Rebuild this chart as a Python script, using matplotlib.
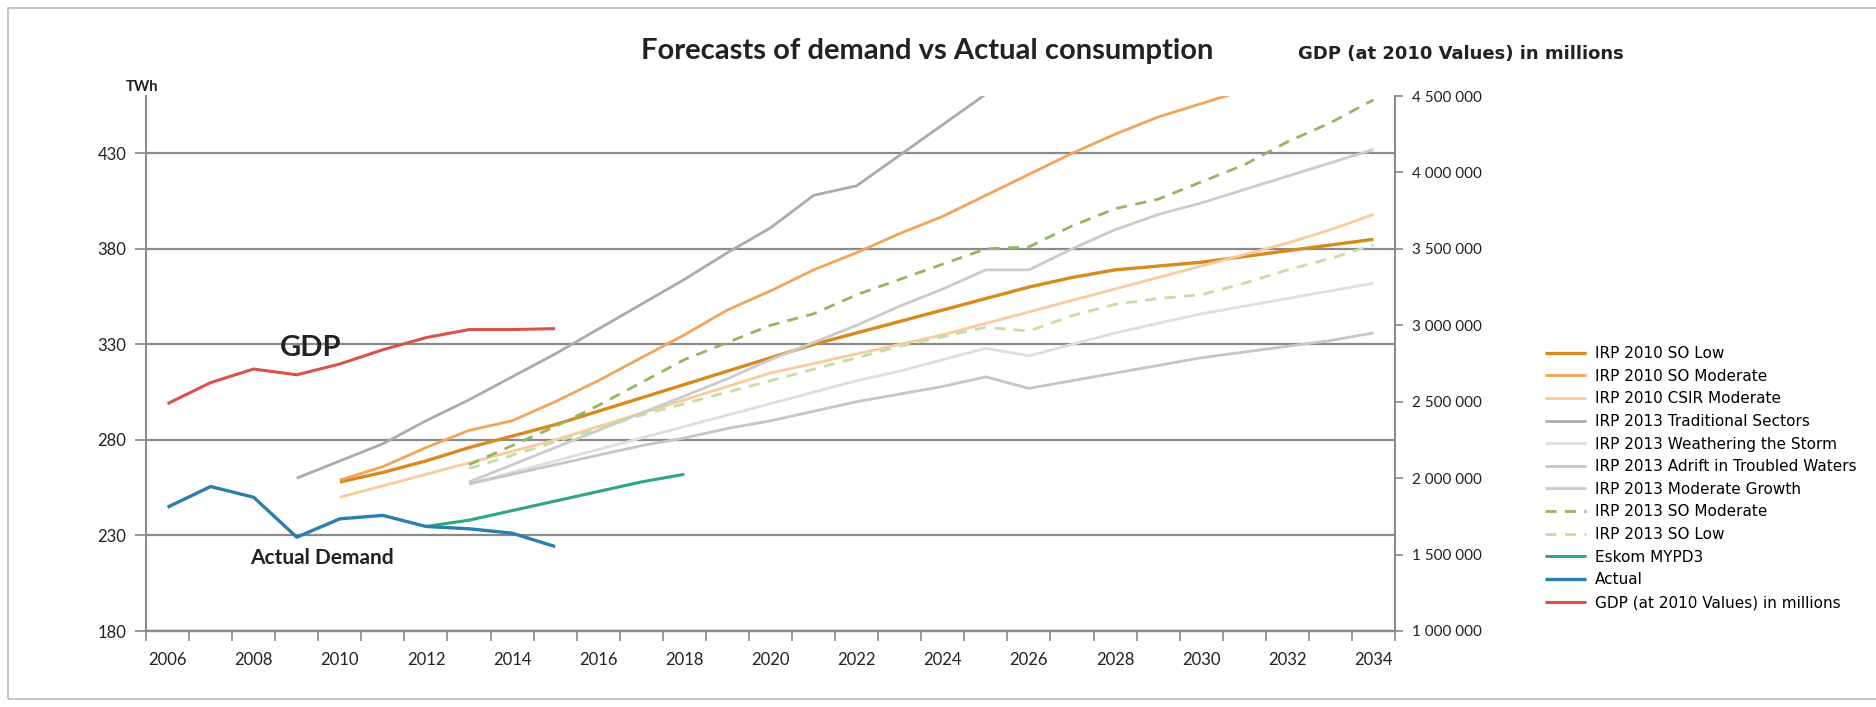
import matplotlib
matplotlib.use("Agg")
import matplotlib.pyplot as plt
from matplotlib.ticker import FixedLocator, FuncFormatter
from matplotlib.patches import Rectangle

plt.rcParams['font.family'] = ['Lato', 'DejaVu Sans']

# ---------------- data ----------------
years_actual = list(range(2006, 2016))
actual = [244.8, 255.6, 250.0, 229.1, 238.7, 240.5, 234.7, 233.5, 231.2, 224.2]
gdp = [2487000, 2625000, 2714000, 2676000, 2747000, 2840000, 2919000, 2972000, 2972000, 2978000]

years_eskom = list(range(2012, 2019))
eskom = [234.7, 238, 243, 248, 253, 258, 262]

years_2010 = list(range(2010, 2035))
irp2010_so_low = [258, 263, 269, 276, 282, 288, 295, 302, 309, 316, 323, 330, 336, 342, 348,
                  354, 360, 365, 369, 371, 373, 376, 379, 382, 385]
irp2010_csir = [250, 256, 262, 268, 274, 280, 287, 294, 301, 308, 315, 320, 325, 330, 335,
                341, 347, 353, 359, 365, 371, 377, 383, 390, 398]
years_2010_mod = list(range(2010, 2032))
irp2010_so_mod = [259, 266, 276, 285, 290, 300, 311, 323, 335, 348, 358, 369, 378, 388, 397,
                  408, 419, 430, 440, 449, 456, 463]

years_trad = list(range(2009, 2026))
irp2013_trad = [260, 269, 278, 290, 301, 313, 325, 338, 351, 364, 378, 391, 408, 413, 429, 445, 461]

years_2013 = list(range(2013, 2035))
irp2013_weather = [257, 263, 269, 275, 281, 287, 293, 299, 305, 311, 316, 322, 328, 324, 330,
                   336, 341, 346, 350, 354, 358, 362]
irp2013_adrift = [257, 262, 267, 272, 277, 281, 286, 290, 295, 300, 304, 308, 313, 307, 311,
                  315, 319, 323, 326, 329, 332, 336]
irp2013_modgrowth = [258, 267, 276, 285, 294, 303, 312, 322, 331, 340, 350, 359, 369, 369, 380,
                     390, 398, 404, 411, 418, 425, 432]
irp2013_so_mod = [267, 277, 287, 298, 310, 322, 331, 340, 346, 356, 364, 372, 380, 381, 392,
                  401, 406, 415, 424, 436, 446, 458]
irp2013_so_low = [265, 272, 279, 286, 293, 299, 305, 311, 317, 323, 329, 334, 339, 337, 345,
                  351, 354, 356, 362, 369, 375, 382]

left_ticks = [180, 230, 280, 330, 380, 430]
right_ticks = [1000000, 1500000, 2000000, 2500000, 3000000, 3500000, 4000000, 4500000]
x_labels = list(range(2006, 2035, 2))

# ---------------- figure ----------------
fig = plt.figure(figsize=(18.76, 7.07), dpi=100)
ax = fig.add_axes([146/1876, 1-631/707, (1395-146)/1876, (631-96)/707])
ax2 = ax.twinx()

lines = []
def plot(a, x, y, label, color, lw=2.0, ls='-'):
    l, = a.plot(x, y, color=color, lw=lw, ls=ls, label=label, solid_capstyle='butt')
    lines.append(l)

plot(ax, years_2010, irp2010_so_low, 'IRP 2010 SO Low', '#d88a1c', 2.4)
plot(ax, years_2010_mod, irp2010_so_mod, 'IRP 2010 SO Moderate', '#f2a458', 2.0)
plot(ax, years_2010, irp2010_csir, 'IRP 2010 CSIR Moderate', '#f7cb9c', 2.0)
plot(ax, years_trad, irp2013_trad, 'IRP 2013 Traditional Sectors', '#ababab', 2.0)
plot(ax, years_2013, irp2013_weather, 'IRP 2013 Weathering the Storm', '#dedede', 2.0)
plot(ax, years_2013, irp2013_adrift, 'IRP 2013 Adrift in Troubled Waters', '#c6c6c6', 2.0)
plot(ax, years_2013, irp2013_modgrowth, 'IRP 2013 Moderate Growth', '#cbcbcb', 2.0)
plot(ax, years_2013, irp2013_so_mod, 'IRP 2013 SO Moderate', '#93b660', 2.0, (0, (4, 3)))
plot(ax, years_2013, irp2013_so_low, 'IRP 2013 SO Low', '#c9dca6', 2.0, (0, (4, 3)))
plot(ax, years_eskom, eskom, 'Eskom MYPD3', '#2ea87a', 2.2)
plot(ax, years_actual, actual, 'Actual', '#2a80ab', 2.4)
plot(ax2, years_actual, gdp, 'GDP (at 2010 Values) in millions', '#d9534a', 2.2)

# axes setup
ax.set_xlim(2005.5, 2034.5)
ax.set_ylim(180, 460)
ax2.set_ylim(1000000, 4500000)
ax.set_yticks(left_ticks)
ax2.set_yticks(right_ticks)
ax2.yaxis.set_major_formatter(FuncFormatter(lambda v, p: f"{int(v):,}".replace(",", " ")))

ax.set_xticks(x_labels)
ax.xaxis.set_minor_locator(FixedLocator([2005.5 + k for k in range(30)]))
ax.tick_params(axis='x', which='major', length=0, labelsize=12, pad=15, colors='#222222')
ax.tick_params(axis='x', which='minor', length=7, color='#888888', width=1.2)
ax.tick_params(axis='y', which='major', length=8, color='#888888', width=1.2,
               labelsize=12, pad=6, labelcolor='#222222')
ax2.tick_params(axis='y', which='major', length=6, color='#888888', width=1.2,
                labelsize=11, pad=6, labelcolor='#222222')

ax.grid(axis='y', color='#8a8a8a', lw=1.6)
ax.set_axisbelow(True)
for a in (ax, ax2):
    a.spines['top'].set_visible(False)
    a.spines['left'].set_color('#8a8a8a')
    a.spines['right'].set_color('#8a8a8a')
    a.spines['bottom'].set_color('#8a8a8a')
    a.spines['left'].set_linewidth(1.4)
    a.spines['right'].set_linewidth(1.4)
    a.spines['bottom'].set_linewidth(1.6)
ax2.set_zorder(ax.get_zorder() + 1)
ax2.patch.set_visible(False)

# texts
fig.text(927/1876, 1-51/707, 'Forecasts of demand vs Actual consumption', ha='center', va='center',
         fontsize=21, fontweight='bold', color='#222222')
fig.text(1298/1876, 1-54/707, 'GDP (at 2010 Values) in millions', ha='left', va='center',
         fontsize=13, fontweight='bold', color='#222222', family=['DejaVu Sans'])
fig.text(142/1876, 1-87/707, 'TWh', ha='center', va='center', fontsize=10.5,
         fontweight='bold', color='#222222')
fig.text(311/1876, 1-348/707, 'GDP', ha='center', va='center', fontsize=21,
         fontweight='bold', color='#222222')
fig.text(322/1876, 1-558/707, 'Actual Demand', ha='center', va='center', fontsize=15,
         fontweight='bold', color='#222222')

# legend
fig.legend(handles=lines, loc='upper left', bbox_to_anchor=(1545/1876, 1-346/707),
           frameon=False, prop={'family': 'DejaVu Sans', 'size': 11},
           handlelength=2.7, handletextpad=0.55,
           labelspacing=0.5, borderpad=0, borderaxespad=0)

# outer border (right edge lies beyond the image, as in the reference)
fig.patches.append(Rectangle((8/1876, 8/707), 1.0, 1-16/707, transform=fig.transFigure,
                             fill=False, edgecolor='#bbbbbb', lw=1.2))

fig.savefig('out.png', dpi=100)
